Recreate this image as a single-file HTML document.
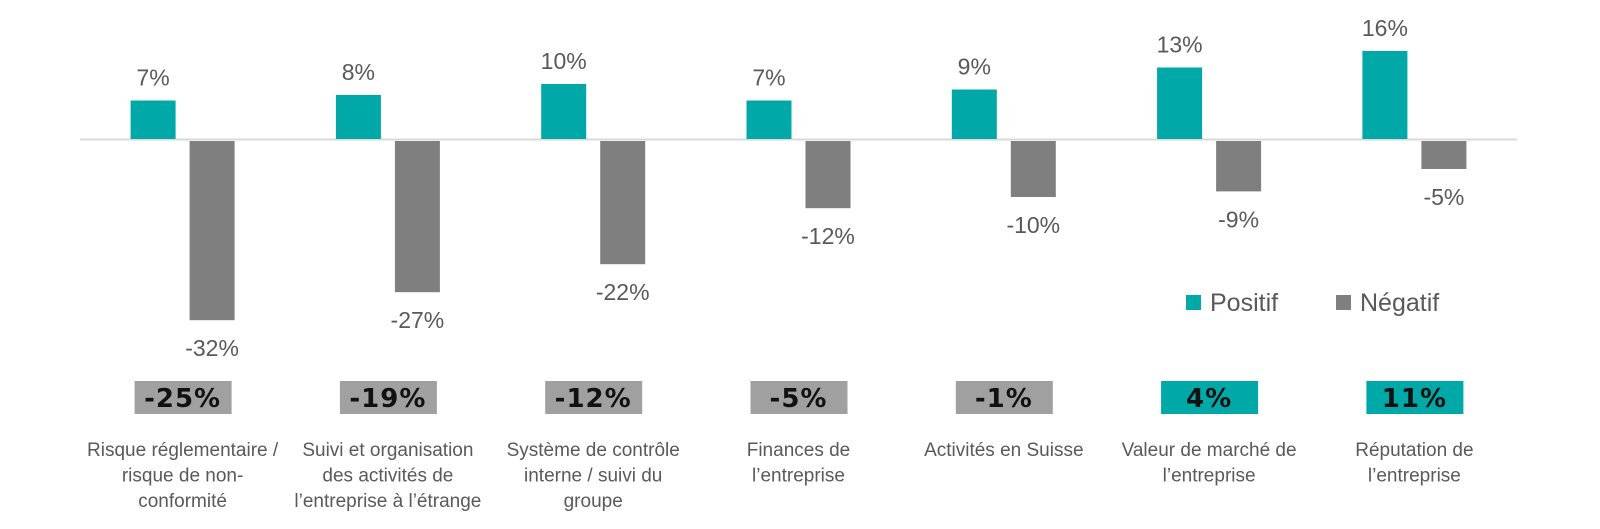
<!DOCTYPE html>
<html><head><meta charset="utf-8"><style>
html,body{margin:0;padding:0;background:#fff;}
svg{display:block;}
text{font-family:"Liberation Sans",sans-serif;}
</style></head><body>
<svg width="1600" height="529" viewBox="0 0 1600 529" xmlns="http://www.w3.org/2000/svg">
<line x1="80" y1="139.5" x2="1517" y2="139.5" stroke="#d9d9d9" stroke-width="2"/>
<g id="bars"></g>
<g font-size="23" fill="#595959" text-anchor="middle" id="vals"></g>
<g id="boxes"></g>
<g font-size="19" fill="#595959" text-anchor="middle" id="labels"></g>
<rect x="1186" y="295" width="15" height="15" fill="#00A8A8"/>
<text x="1210" y="311" font-size="25" fill="#595959">Positif</text>
<rect x="1336" y="295" width="15" height="15" fill="#7F7F7F"/>
<text x="1360" y="311" font-size="25" fill="#595959">Négatif</text>
</svg>
<script>
const pos=[7,8,10,7,9,13,16],neg=[32,27,22,12,10,9,5],net=[-25,-19,-12,-5,-1,4,11];
const labels=[["Risque réglementaire /","risque de non-","conformité"],["Suivi et organisation","des activités de","l’entreprise à l’étrange"],["Système de contrôle","interne / suivi du","groupe"],["Finances de","l’entreprise"],["Activités en Suisse"],["Valeur de marché de","l’entreprise"],["Réputation de","l’entreprise"]];
const NS="http://www.w3.org/2000/svg";
function el(p,t,a,txt){const e=document.createElementNS(NS,t);for(const k in a)e.setAttribute(k,a[k]);if(txt!==undefined)e.textContent=txt;document.getElementById(p).appendChild(e);return e;}
for(let i=0;i<7;i++){
 const gs=80+i*205.3, c=gs+102.6;
 const px=c-52, nx=c+7;
 const ph=pos[i]*5.5, nh=neg[i]*5.6;
 el("bars","rect",{x:px,y:139-ph,width:45,height:ph,fill:"#00A8A8"});
 el("bars","rect",{x:nx,y:141,width:45,height:nh,fill:"#7F7F7F"});
 el("vals","text",{x:px+22.5,y:139-ph-15},pos[i]+"%");
 el("vals","text",{x:nx+22.5,y:141+nh+36},"-"+neg[i]+"%");
 const col=net[i]<0?"#A0A0A0":"#00A8A8";
 el("boxes","rect",{x:c-48,y:381,width:97,height:33,fill:col});
 el("boxes","text",{x:c,y:407,"text-anchor":"middle","font-size":"26","font-weight":"bold",fill:"#111","letter-spacing":"1",style:"font-family:'DejaVu Sans',sans-serif"},net[i]+"%");
 labels[i].forEach((l,j)=>el("labels","text",{x:c,y:456+j*25.5},l));
}
</script>
</body></html>
